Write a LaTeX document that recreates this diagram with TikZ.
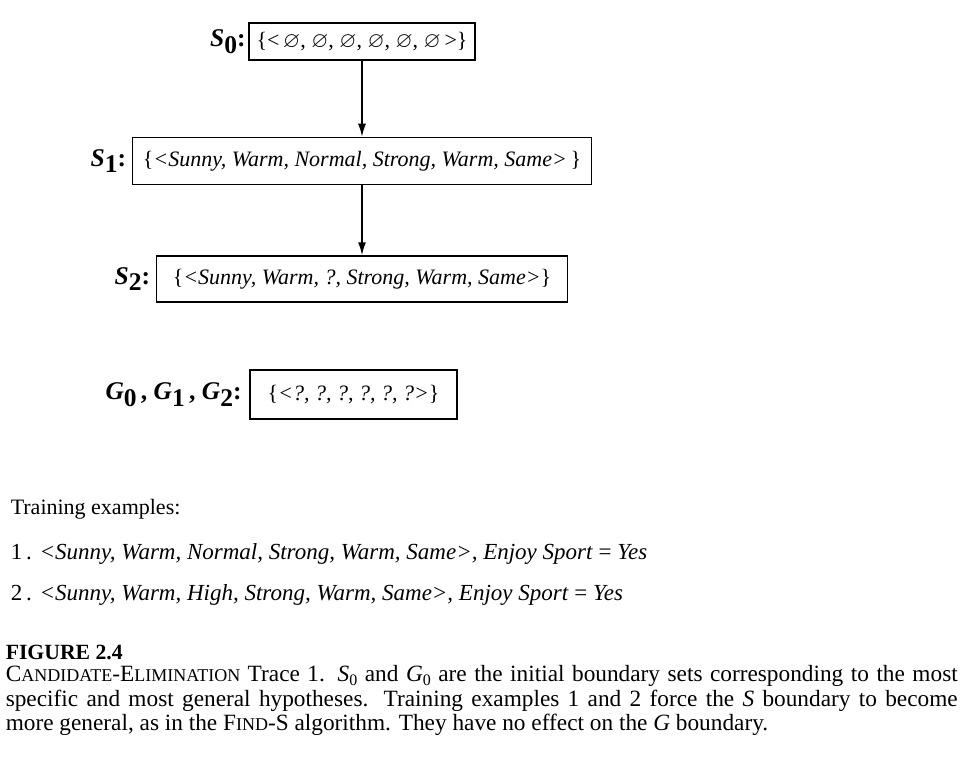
\documentclass[tikz,border=0pt]{standalone}
\usepackage{fontspec}
\setmainfont{Liberation Serif}
\usepackage{amssymb}
\usetikzlibrary{positioning,arrows.meta}
\newcommand\capsc[1]{{\fontsize{18pt}{20pt}\selectfont #1}}
\newcommand\bnd[2]{{\bfseries\itshape #1}\raisebox{-0.55ex}{\bfseries #2}}
\newcommand\nullset{$\varnothing$}
\newcommand\lowsub[1]{\raisebox{-0.15em}{\fontsize{16pt}{16pt}\selectfont #1}}

\begin{document}
\begin{tikzpicture}[x=1pt,y=-1pt,
        every node/.style={inner sep=0pt,font=\fontsize{22pt}{24pt}\selectfont},
        setbox/.style={draw,line width=1.5pt},
        setname/.style={font=\fontsize{25.5pt}{27pt}\selectfont},
        textline/.style={anchor=base west},
        caption/.style={anchor=north west,text width=952pt,align=justify,
          font=\fontsize{23.3pt}{24.4pt}\selectfont},
        -{Latex[length=13pt,width=8pt]},line width=1.5pt
      ]
      \useasboundingbox (0,0) rectangle (962,757);

      % the S boundary sets
      \node[setbox,minimum width=226pt,minimum height=37pt] (s0) at (362,41.5)
        {\{<\,\nullset, \nullset, \nullset, \nullset, \nullset, \nullset\,>\}};
      \node[setbox,minimum width=459pt,minimum height=47pt,below=76pt of s0] (s1)
        {\{\textit{<Sunny, Warm, Normal, Strong, Warm, Same>}\,\}};
      \node[setbox,minimum width=411pt,minimum height=46pt,below=70pt of s1] (s2)
        {\{\textit{<Sunny, Warm, ?, Strong, Warm, Same>}\}};

      % the G boundary set
      \node[setbox,minimum width=207pt,minimum height=49pt] (g) at (353.5,394.5)
        {\{\textit{<?, ?, ?, ?, ?, ?>}\}};

      % the names
      \node[setname,left=2pt of s0] (s0name) {\bnd{S}{0}\textbf{:}};
      \node[setname,left=5pt of s1] (s1name) {\bnd{S}{1}\textbf{:}};
      \node[setname,left=5pt of s2] (s2name) {\bnd{S}{2}\textbf{:}};
      \node[setname,left=7pt of g] (gname) {\bnd{G}{0}\,\textbf{,} \bnd{G}{1}\,\textbf{,} \bnd{G}{2}\textbf{:}};

      % the edges
      \draw (s0) -- (s1); \draw (s1) -- (s2);

      % the training examples
      \node[textline] (train) at (10,514) {Training examples:};
      \node[textline,font=\fontsize{23pt}{24pt}\selectfont] (ex1) at (10,559)
        {1\,. \textit{<Sunny, Warm, Normal, Strong, Warm, Same>, Enjoy Sport} = \textit{Yes}};
      \node[textline,font=\fontsize{23pt}{24pt}\selectfont] (ex2) at (10,600)
        {2\,. \textit{<Sunny, Warm, High, Strong, Warm, Same>, Enjoy Sport} = \textit{Yes}};

      % the caption
      \node[textline,font=\fontsize{21.7pt}{24pt}\selectfont] (fig) at (5,659) {\textbf{FIGURE 2.4}};
      \node[caption] (cap) at (5,665) {C\capsc{ANDIDATE}-E\capsc{LIMINATION} Trace 1. \textit{S}\lowsub{0} and \textit{G}\lowsub{0} are the initial boundary sets corresponding to the most\linebreak
        specific and most general hypotheses. Training examples 1 and 2 force the \textit{S} boundary to become\linebreak
        more general, as in the F\capsc{IND}-S algorithm. They have no effect on the \textit{G} boundary.};
 \end{tikzpicture}
\end{document}
